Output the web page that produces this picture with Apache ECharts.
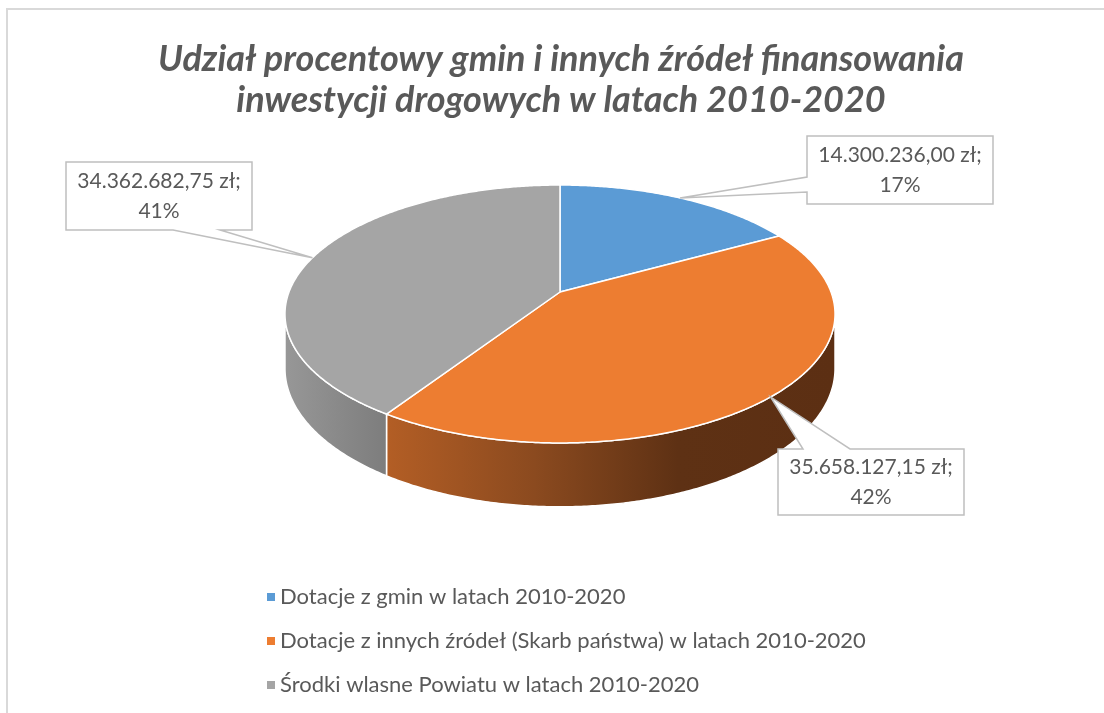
<!DOCTYPE html>
<html><head><meta charset="utf-8">
<script src="https://cdn.jsdelivr.net/npm/echarts@6/dist/echarts.min.js"></script>
<style>html,body{margin:0;padding:0;background:#fff}#c{width:1104px;height:713px}</style>
</head><body><div id="c"></div>
<script>
// ---- data ----
const categories = [
  'Dotacje z gmin w latach 2010-2020',
  'Dotacje z innych źródeł (Skarb państwa) w latach 2010-2020',
  'Środki wlasne Powiatu w latach 2010-2020'
];
const values = [14300236.00, 35658127.15, 34362682.75];
const colors = ['#5b9bd5', '#ed7d31', '#a5a5a5'];
const titleLines = ['Udział procentowy gmin i innych źródeł finansowania', 'inwestycji drogowych w latach 2010-2020'];

// ---- layout ----
const FONT = 'Lato';
const GEO = {cx: 560, cy: 292, R: 271, R2: 125.2, k: 0.1705, D: 53};
const sideStops = [
  null,
  [[0, '#b35e25'], [0.33, '#8b4a1f'], [0.65, '#5e3114'], [1, '#5c2f13']],
  [[0, '#979797'], [1, '#7d7d7d']]
];
const callouts = [
  {box: [807, 136, 186, 68], edge: 'left', gap: [177, 192]},
  {box: [778, 449, 186, 66], edge: 'top', gap: [803, 850]},
  {box: [66, 162, 186, 68], edge: 'bottom', gap: [173, 220]}
];

const total = values.reduce((a, b) => a + b, 0);
const cum = [0];
values.forEach((v, i) => cum.push(cum[i] + v));

function proj(theta, h) {
  const u = Math.sin(theta), v = Math.cos(theta);
  const s = 1 / (1 + GEO.k * v);
  return [GEO.cx + GEO.R * u * s, GEO.cy - GEO.R2 * v * s + h * s];
}
function arc(a0, a1, h) {
  const n = Math.max(2, Math.ceil(Math.abs(a1 - a0) / (Math.PI / 360)));
  const pts = [];
  for (let j = 0; j <= n; j++) pts.push(proj(a0 + (a1 - a0) * j / n, h));
  return pts;
}
const visLo = Math.acos(-GEO.k), visHi = 2 * Math.PI - visLo;

function fmt(v) {
  const parts = v.toFixed(2).split('.');
  return parts[0].replace(/\B(?=(\d{3})+(?!\d))/g, '.') + ',' + parts[1] + ' zł;';
}

function makeRender(i) {
  return function (params, api) {
    const v = api.value(0);
    const a0 = cum[i] / total * 2 * Math.PI;
    const a1 = a0 + v / total * 2 * Math.PI;
    const children = [];
    // side wall
    const s0 = Math.max(a0, visLo), s1 = Math.min(a1, visHi);
    if (s1 > s0 && sideStops[i]) {
      const top = arc(s0, s1, 0);
      const bot = arc(s0, s1, GEO.D).reverse();
      const pts = top.concat(bot);
      const xs = pts.map(p => p[0]);
      const xmin = Math.min.apply(null, xs), xmax = Math.max.apply(null, xs);
      children.push({
        type: 'polygon',
        shape: {points: pts},
        style: {
          fill: {type: 'linear', x: xmin, y: 0, x2: xmax, y2: 0, global: true,
            colorStops: sideStops[i].map(s => ({offset: s[0], color: s[1]}))},
          stroke: '#ffffff', lineWidth: 1.5, lineJoin: 'round'
        }
      });
    }
    // top face
    const topPts = [[GEO.cx, GEO.cy]].concat(arc(a0, a1, 0));
    children.push({
      type: 'polygon',
      shape: {points: topPts},
      style: {fill: colors[i], stroke: '#ffffff', lineWidth: 1.5, lineJoin: 'round'}
    });
    // callout
    const am = (a0 + a1) / 2;
    const anc = proj(am, 0);
    const c = callouts[i];
    const [x, y, w, h] = c.box;
    let poly;
    if (c.edge === 'left') {
      poly = [[x, y], [x + w, y], [x + w, y + h], [x, y + h], [x, c.gap[1]], anc, [x, c.gap[0]]];
    } else if (c.edge === 'top') {
      poly = [[x, y], [c.gap[0], y], anc, [c.gap[1], y], [x + w, y], [x + w, y + h], [x, y + h]];
    } else {
      poly = [[x, y], [x + w, y], [x + w, y + h], [c.gap[1], y + h], anc, [c.gap[0], y + h], [x, y + h]];
    }
    children.push({
      type: 'polygon',
      shape: {points: poly},
      style: {fill: '#ffffff', stroke: '#bfbfbf', lineWidth: 1.5}
    });
    const pct = Math.round(v / total * 100);
    children.push({
      type: 'text',
      style: {
        text: fmt(v) + '\n' + pct + '%',
        x: x + w / 2, y: y + h / 2,
        align: 'center', verticalAlign: 'middle',
        fill: '#595959', fontFamily: FONT, fontSize: 21, lineHeight: 30
      }
    });
    return {type: 'group', children: children};
  };
}

const chart = echarts.init(document.getElementById('c'), null, {renderer: 'canvas'});
chart.setOption({
  animation: false,
  backgroundColor: '#ffffff',
  color: colors,
  graphic: [
    {type: 'rect', shape: {x: 7, y: 9, width: 1300, height: 900},
      style: {fill: 'none', stroke: '#d9d9d9', lineWidth: 2}, silent: true},
    {type: 'text', x: 561, y: 59, style: {text: titleLines[0], align: 'center', verticalAlign: 'middle',
      fill: '#595959', fontFamily: FONT, fontSize: 36, fontWeight: 'bold', fontStyle: 'italic'}},
    {type: 'text', x: 561, y: 100, style: {text: titleLines[1], align: 'center', verticalAlign: 'middle',
      fill: '#595959', fontFamily: FONT, fontSize: 36, fontWeight: 'bold', fontStyle: 'italic'}}
  ],
  legend: {
    orient: 'vertical', left: 262, top: 581,
    icon: 'rect', itemWidth: 8, itemHeight: 8, itemGap: 22,
    textStyle: {color: '#595959', fontFamily: FONT, fontSize: 22, lineHeight: 22},
    data: categories
  },
  series: categories.map((name, i) => ({
    type: 'custom',
    name: name,
    coordinateSystem: 'none',
    itemStyle: {color: colors[i]},
    silent: true,
    renderItem: makeRender(i),
    data: [[values[i]]]
  }))
});
</script></body></html>
